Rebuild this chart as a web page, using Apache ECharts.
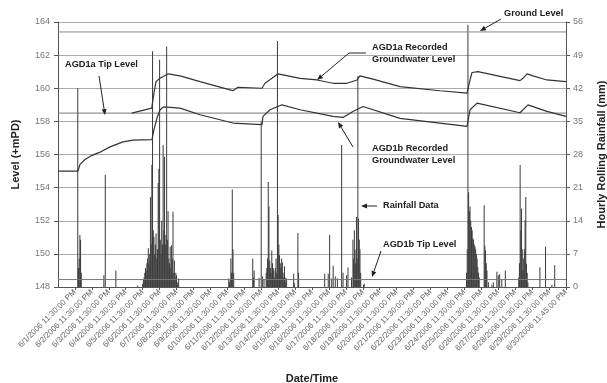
<!DOCTYPE html>
<html>
<head>
<meta charset="utf-8">
<script src="https://cdn.jsdelivr.net/npm/echarts@6/dist/echarts.min.js"></script>
<style>
  html, body { margin: 0; padding: 0; background: #fff; }
  #chart { width: 607px; height: 383px; }
</style>
</head>
<body>
<div id="chart"></div>
<script>
// Date/time tick labels, one per day (hours since 6/1/2006 00:00 = 24 * index)
const dateLabels = [
  '6/1/2006 11:30:00 PM', '6/2/2006 11:30:00 PM', '6/3/2006 11:30:00 PM',
  '6/4/2006 11:30:00 PM', '6/5/2006 11:30:00 PM', '6/6/2006 11:30:00 PM',
  '6/7/2006 11:30:00 PM', '6/8/2006 11:30:00 PM', '6/9/2006 11:30:00 PM',
  '6/10/2006 11:30:00 PM', '6/11/2006 11:30:00 PM', '6/12/2006 11:30:00 PM',
  '6/13/2006 11:30:00 PM', '6/14/2006 11:30:00 PM', '6/15/2006 11:30:00 PM',
  '6/16/2006 11:30:00 PM', '6/17/2006 11:30:00 PM', '6/18/2006 11:30:00 PM',
  '6/19/2006 11:30:00 PM', '6/20/2006 11:30:00 PM', '6/21/2006 11:30:00 PM',
  '6/22/2006 11:30:00 PM', '6/23/2006 11:30:00 PM', '6/24/2006 11:30:00 PM',
  '6/25/2006 11:30:00 PM', '6/26/2006 11:30:00 PM', '6/27/2006 11:30:00 PM',
  '6/28/2006 11:30:00 PM', '6/29/2006 11:30:00 PM', '6/30/2006 11:45:00 PM'
];

// Reference levels (+mPD)
const groundLevel = 163.4;
const agd1aTipLevel = 158.5;
const agd1bTipLevel = 148.45;

// AGD1a recorded groundwater level
const agd1aHours = [104.5, 132.8, 136, 138.9, 144.6, 156.3, 172.9, 201.3, 243.8, 248, 255.1, 289.1,
  293.4, 303.3, 311.8, 343, 367, 389.8, 409.6, 423.8, 428, 446.5, 484.7, 541.4, 579.7, 584,
  586.8, 595.3, 654.8, 659, 664.7, 673.2, 693, 720];
const agd1aLevel = [158.5, 158.8, 159.7, 160.4, 160.6, 160.87, 160.75, 160.4, 159.9, 159.85, 160.06, 160.0,
  160.3, 160.6, 160.87, 160.6, 160.5, 160.3, 160.3, 160.5, 160.75, 160.55, 160.1, 159.85, 159.7, 160.5,
  160.95, 161.0, 160.46, 160.6, 160.87, 160.75, 160.5, 160.4];

// AGD1b recorded groundwater level
const agd1bHours = [0, 28.3, 31.2, 38.3, 48.2, 59.5, 73.7, 92.1, 106.3, 133.2, 136, 140.3, 144.6, 150,
  172.9, 201.3, 248, 289.1, 290.5, 300.5, 317.5, 343, 389.8, 404, 418, 432.3, 484.7, 579.7, 584,
  593.9, 654.8, 666.1, 693, 720];
const agd1bLevel = [155.0, 155.0, 155.4, 155.7, 155.95, 156.14, 156.46, 156.76, 156.87, 156.9, 157.5, 158.2, 158.7, 158.88,
  158.8, 158.4, 157.9, 157.8, 158.3, 158.7, 159.0, 158.7, 158.3, 158.24, 158.6, 158.9, 158.18, 157.7, 158.7,
  159.1, 158.52, 159.0, 158.6, 158.3];

// Hourly rolling rainfall (mm), hours since 6/1/2006 00:00
const rainHours = [
  28, 29, 30, 31, 32, 33,
  65, 67, 82, 113,
  120, 121, 122, 123, 124, 125, 126, 127, 128, 129, 130, 131, 132, 133, 134, 135, 136, 137, 138, 139,
  140, 141, 142, 143, 144, 145, 146, 147, 148, 149, 150, 151, 152, 153, 154, 155, 156, 157, 158, 159,
  160, 161, 162, 163, 164, 165, 166, 167, 168, 169, 170, 171,
  242, 243, 244, 245, 246, 247, 248, 249,
  276, 277, 278, 285, 288, 290, 292, 295, 296, 297, 298, 299, 300, 301, 302, 303, 304, 305, 306, 307,
  308, 309, 310, 311, 312, 313, 314, 315, 316, 317, 318, 319, 320, 321, 322, 323, 324, 334, 335, 340, 341,
  378, 383, 385, 388, 390, 393, 396, 402, 404, 409, 411, 416, 418, 419, 420, 421, 422, 423, 424, 425,
  426, 427, 428, 429, 433, 434,
  579, 580, 581, 582, 583, 584, 585, 586, 587, 588, 589, 590, 591, 592, 593, 594, 595, 596, 597,
  604, 605, 606, 607, 608, 610, 615, 617, 622, 624, 626, 629, 634,
  653, 654, 655, 656, 657, 658, 659, 660, 661, 662, 663, 664, 665, 666,
  683, 691, 700, 704
];
const rainMm = [
  42, 4, 6, 11, 10, 3,
  2.5, 23.7, 3.5, 0.3,
  0.7, 1.5, 2, 3, 4, 3.5, 5, 6, 8.2, 5, 7, 19, 9, 25.8, 49.8, 12, 10.6, 7, 9, 11.3,
  6, 8, 22, 25, 48, 10, 7, 14, 9, 30, 12, 27.5, 9, 11, 50.8, 10, 16, 6, 5, 8.5,
  4, 8.8, 6, 15.9, 3, 5.6, 2, 3, 2.5, 1, 0.5, 1.8,
  1.8, 1, 1.5, 6, 3, 20.6, 8, 3,
  6, 2, 3.5, 1.9, 35, 2.2, 1.5, 3, 4, 6, 22.2, 17, 5.6, 4, 3, 7.7, 5, 4, 3.5, 2,
  4, 6, 3, 52, 15.2, 9, 6.7, 5, 4, 6, 5.2, 3, 2, 4.4, 2, 1, 1.8, 2.8, 0.8, 11.4, 3,
  2.8, 2.8, 11, 1.8, 4.5, 2.2, 1.8, 30, 3, 2.5, 4.1, 2, 10, 6, 12, 8, 5, 14.8, 6, 44.6,
  14.5, 10, 8, 3, 0.5, 0.7,
  3, 8, 55.4, 20, 16, 17, 14, 12.7, 12, 10.3, 10, 9, 8.5, 8, 7, 6, 4.2, 3, 2,
  17.3, 8.7, 7.7, 5, 3.5, 1, 0.5, 1, 3.2, 2.5, 2.7, 1.5, 3.5,
  2, 5, 25.8, 12, 16.6, 8, 3.5, 6, 8, 14.1, 19, 4.9, 3, 1,
  4.2, 8.5, 0.5, 4.6
];

const FONT = 'Liberation Sans';
const zip = (xs, ys) => xs.map((x, i) => [x, ys[i]]);
const flat = (v) => [[0, v], [720, v]];

// Annotation text + arrow helpers (pixel layout of the callouts)
function label(x, y, text) {
  return {
    type: 'text', left: x, top: y - 5.5, z: 100,
    style: { text: text, fill: '#222', font: 'bold 9.2px ' + FONT }
  };
}
function arrow(points) {
  const n = points.length;
  const [x1, y1] = points[n - 2];
  const [x2, y2] = points[n - 1];
  const a = Math.atan2(y2 - y1, x2 - x1);
  const L = 6, W = 2.5;
  const bx = x2 - L * Math.cos(a), by = y2 - L * Math.sin(a);
  const head = [[x2, y2],
    [bx + W * Math.sin(a), by - W * Math.cos(a)],
    [bx - W * Math.sin(a), by + W * Math.cos(a)]];
  return [
    { type: 'polyline', z: 100, shape: { points: points.slice(0, n - 1).concat([[bx, by]]) },
      style: { stroke: '#222', lineWidth: 1, fill: null } },
    { type: 'polygon', z: 100, shape: { points: head }, style: { fill: '#222' } }
  ];
}

const chart = echarts.init(document.getElementById('chart'), null, { renderer: 'canvas' });

const option = {
  animation: false,
  backgroundColor: '#fff',
  textStyle: { fontFamily: FONT },
  grid: { left: 58, right: 41, top: 22, bottom: 96, containLabel: false, outerBoundsMode: 'none' },
  xAxis: {
    type: 'value', min: 0, max: 720, interval: 24,
    name: 'Date/Time', nameLocation: 'middle', nameGap: 86,
    nameTextStyle: { fontFamily: FONT, fontWeight: 'bold', fontSize: 11, color: '#222' },
    axisLine: { lineStyle: { color: '#555', width: 1 } },
    axisTick: { show: true, length: 3, lineStyle: { color: '#555' } },
    splitLine: { show: false },
    axisLabel: {
      rotate: 45, fontSize: 8, color: '#666', margin: 4, fontFamily: FONT,
      showMinLabel: false, showMaxLabel: true, hideOverlap: false,
      formatter: (v) => (v <= 0 ? '' : dateLabels[Math.round(v / 24) - 1])
    }
  },
  yAxis: [
    {
      type: 'value', min: 148, max: 164, interval: 2,
      name: 'Level (+mPD)', nameLocation: 'middle', nameGap: 37, nameRotate: 90,
      nameTextStyle: { fontFamily: FONT, fontWeight: 'bold', fontSize: 11, color: '#222' },
      axisLine: { show: true, lineStyle: { color: '#555' } },
      axisTick: { show: true, length: 4, lineStyle: { color: '#555' } },
      axisLabel: { fontSize: 9, color: '#777', margin: 8, fontFamily: FONT },
      splitLine: { show: true, lineStyle: { color: '#aaa', width: 1 } }
    },
    {
      type: 'value', min: 0, max: 56, interval: 7,
      name: 'Hourly Rolling Rainfall (mm)', nameLocation: 'middle', nameGap: 30, nameRotate: 90,
      nameTextStyle: { fontFamily: FONT, fontWeight: 'bold', fontSize: 11, color: '#222' },
      axisLine: { show: true, lineStyle: { color: '#555' } },
      axisTick: { show: true, length: 4, lineStyle: { color: '#555' } },
      axisLabel: { fontSize: 9, color: '#777', margin: 7, fontFamily: FONT },
      splitLine: { show: false }
    }
  ],
  series: [
    {
      name: 'Rainfall Data', type: 'bar', yAxisIndex: 1, barWidth: 1,
      data: zip(rainHours, rainMm),
      itemStyle: { color: '#3a3a3a' }, z: 2
    },
    {
      name: 'Ground Level', type: 'line', data: flat(groundLevel), symbol: 'none',
      lineStyle: { color: '#888', width: 1 }, z: 3
    },
    {
      name: 'AGD1a Tip Level', type: 'line', data: flat(agd1aTipLevel), symbol: 'none',
      lineStyle: { color: '#777', width: 1 }, z: 3
    },
    {
      name: 'AGD1b Tip Level', type: 'line', data: flat(agd1bTipLevel), symbol: 'none',
      lineStyle: { color: '#777', width: 1 }, z: 3
    },
    {
      name: 'AGD1a Recorded Groundwater Level', type: 'line', data: zip(agd1aHours, agd1aLevel),
      symbol: 'none', lineStyle: { color: '#333', width: 1.2 }, z: 4
    },
    {
      name: 'AGD1b Recorded Groundwater Level', type: 'line', data: zip(agd1bHours, agd1bLevel),
      symbol: 'none', lineStyle: { color: '#333', width: 1.2 }, z: 4
    }
  ],
  graphic: [
    label(65, 65, 'AGD1a Tip Level'),
    ...arrow([[99, 76], [105, 115]]),
    label(372, 48, 'AGD1a Recorded'),
    label(372, 60, 'Groundwater Level'),
    ...arrow([[366, 53], [349, 53], [317, 80]]),
    label(372, 149, 'AGD1b Recorded'),
    label(372, 161, 'Groundwater Level'),
    ...arrow([[353, 147], [338, 122]]),
    label(383, 206, 'Rainfall Data'),
    ...arrow([[377, 206], [361, 206]]),
    label(383, 245, 'AGD1b Tip Level'),
    ...arrow([[381, 251], [372, 277]]),
    label(504, 14, 'Ground Level'),
    ...arrow([[501, 19], [480, 31]])
  ]
};

chart.setOption(option);
</script>
</body>
</html>
